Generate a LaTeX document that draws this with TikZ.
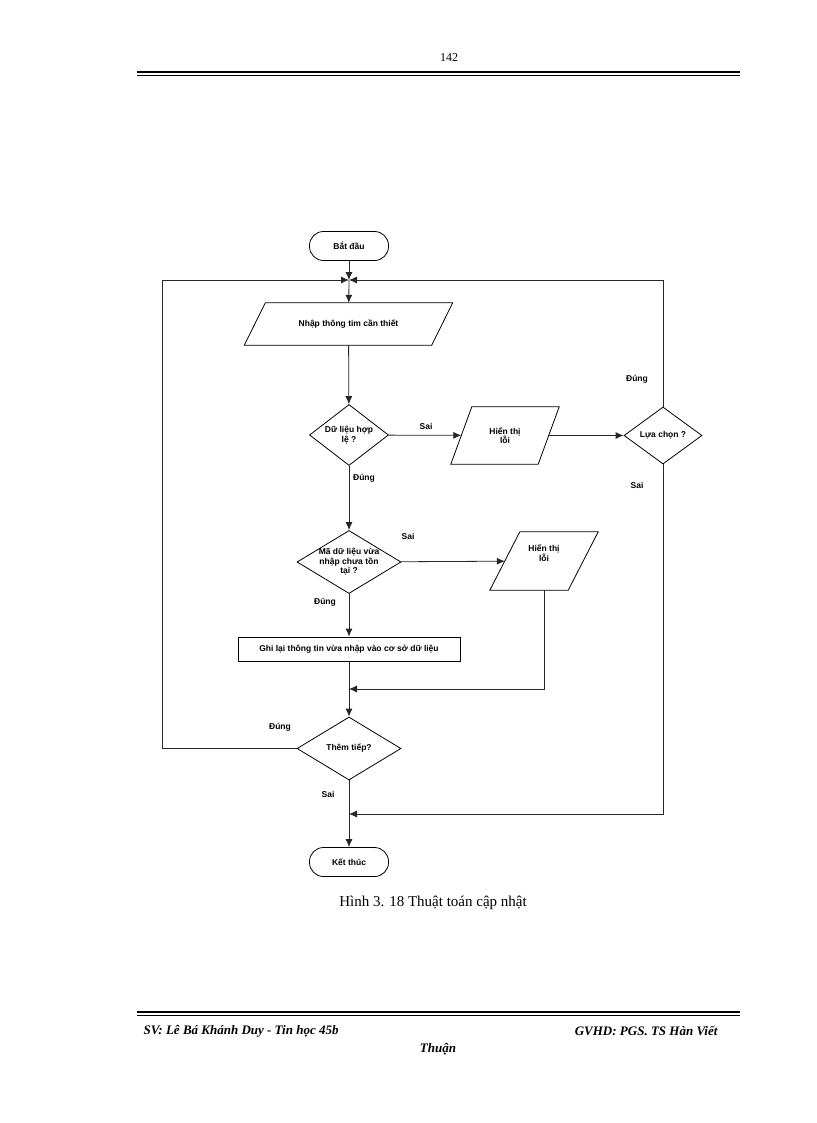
\documentclass[tikz,border=0pt]{standalone}
\usepackage{fontspec}
\setmainfont{Liberation Serif}
\newfontfamily\dsans{Liberation Sans}
\usetikzlibrary{shapes.geometric,arrows.meta}
\begin{document}
\begin{tikzpicture}[x=1pt,y=-1pt,
  every node/.style={font=\dsans\bfseries\fontsize{8.5}{9.5}\selectfont,align=center},
  line/.style={draw=black!85,line width=0.8pt},
  arr/.style={line,-{Latex[length=8pt,width=7pt]}},
  term/.style={draw,rounded corners=14pt,minimum width=79pt,minimum height=29pt,line width=0.8pt},
  dia/.style={draw,diamond,inner sep=0pt,line width=0.8pt},
  para/.style={inner sep=0pt},
  lbl/.style={inner sep=1pt}]
\useasboundingbox (0,0) rectangle (816,1123);
% header
\node[font=\fontsize{12}{13}\selectfont] (pg) at (449,58) {142};
\draw[line width=1.6pt] (137,72) -- (740,72);
\draw[line width=0.6pt] (137,75.5) -- (740,75.5);
% footer
\draw[line width=1.6pt] (137,1012) -- (740,1012);
\draw[line width=0.6pt] (137,1015.5) -- (740,1015.5);
\node[font=\bfseries\itshape\fontsize{13}{14}\selectfont,anchor=west] (f1) at (140,1031) {SV: Lê Bá Khánh Duy - Tin học 45b};
\node[font=\bfseries\itshape\fontsize{13}{14}\selectfont,anchor=east] (f2) at (721,1031) {GVHD: PGS. TS Hàn Viết};
\node[font=\bfseries\itshape\fontsize{13}{14}\selectfont] (f3) at (438,1049) {Thuận};
% caption
\node[font=\fontsize{15}{16}\selectfont] (cap) at (433,903) {Hình 3. 18 Thuật toán cập nhật};

% nodes
\node[term] (start) at (349,246) {Bắt đầu};
\coordinate (j1) at (349,280);
\node[para,minimum width=187pt,minimum height=42pt] (in) at (348.5,324) {Nhập thông tim cần thiết};
\draw[line width=0.8pt] ([xshift=10.5pt]in.north west) -- ([xshift=10.5pt]in.north east) -- ([xshift=-10.5pt]in.south east) -- ([xshift=-10.5pt]in.south west) -- cycle;
\node[dia,minimum width=79pt,minimum height=61pt,label=center:{Dữ liệu hợp\\lệ ?}] (d1) at (349,435) {};
\node[para,minimum width=87pt,minimum height=57pt] (e1) at (505,435.5) {Hiển thị\\lỗi};
\draw[line width=0.8pt] ([xshift=10.5pt]e1.north west) -- ([xshift=10.5pt]e1.north east) -- ([xshift=-10.5pt]e1.south east) -- ([xshift=-10.5pt]e1.south west) -- cycle;
\node[dia,minimum width=78pt,minimum height=57pt,label=center:{Lựa chọn ?}] (lc) at (663,435.5) {};
\node[dia,minimum width=104pt,minimum height=63pt,label=center:{Mã dữ liệu vừa\\nhập chưa tồn\\tại ?}] (d2) at (349,562) {};
\node[para,minimum width=78pt,minimum height=58pt] (e2) at (544,561) {Hiển thị\\lỗi\\[6pt]};
\draw[line width=0.8pt] ([xshift=15pt]e2.north west) -- ([xshift=15pt]e2.north east) -- ([xshift=-15pt]e2.south east) -- ([xshift=-15pt]e2.south west) -- cycle;
\node[draw,line width=0.8pt,minimum width=222pt,minimum height=24pt] (rec) at (349,649) {Ghi lại thông tin vừa nhập vào cơ sở dữ liệu};
\coordinate (j2) at (349,689);
\node[dia,minimum width=104pt,minimum height=63pt,label=center:{Thêm tiếp?}] (d3) at (349,748.5) {};
\coordinate (j3) at (349,814);
\node[term] (end) at (349,862) {Kết thúc};

% connectors
\draw[arr] (start) -- (j1);
\draw[arr] (j1) -- (in);
\draw[arr] (in) -- (d1);
\draw[arr] (d1) -- (e1);
\draw[arr] (e1) -- (lc);
\draw[arr] (lc.north) |- (j1);
\draw[arr] (d1) -- (d2);
\draw[arr] (d2) -- (e2);
\draw[arr] (d2) -- (rec);
\draw[line] (rec) -- (j2);
\draw[arr] (e2.south) |- (j2);
\draw[arr] (j2) -- (d3);
\draw[arr] (d3.west) -- (162,748.5) |- (j1);
\draw[line] (d3) -- (j3);
\draw[arr] (lc.south) |- (j3);
\draw[arr] (j3) -- (end);

% labels
\node[lbl] (s1) at (426,426) {Sai};
\node[lbl] (g1) at (364,478) {Đúng};
\node[lbl] (g2) at (637,379) {Đúng};
\node[lbl] (s2) at (637,485) {Sai};
\node[lbl] (s3) at (408,536) {Sai};
\node[lbl] (g3) at (325,602) {Đúng};
\node[lbl] (g4) at (280,727) {Đúng};
\node[lbl] (s4) at (328,794) {Sai};
\end{tikzpicture}
\end{document}
